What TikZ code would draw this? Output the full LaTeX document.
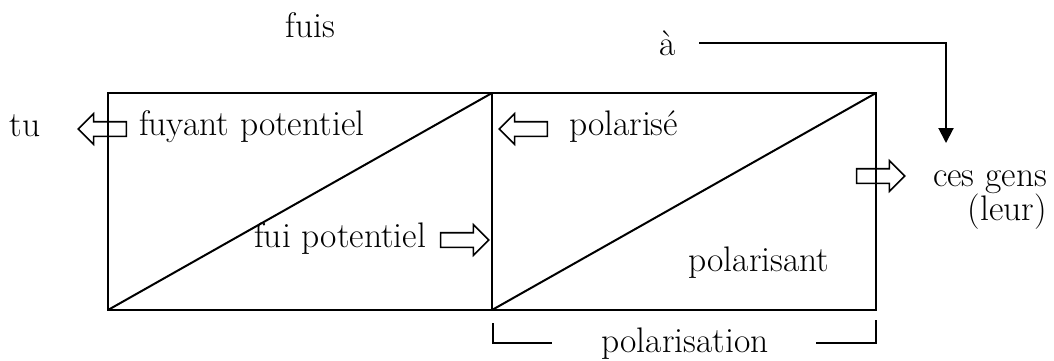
\documentclass[tikz,border=0pt]{standalone}
\usepackage{tikz}
\usetikzlibrary{arrows.meta, positioning, shapes.arrows}

\begin{document}
\begin{tikzpicture}[
    x=1pt, y=-1pt,
    line width=2pt,
    txt/.style={inner sep=0pt, font=\fontsize{35.5}{40}\selectfont},
    hollow/.style={single arrow, draw, line width=1.6pt, minimum height=48pt,
        inner sep=6.5pt, single arrow head extend=8pt, single arrow tip angle=90}
]
    \useasboundingbox (0,0) rectangle (1054,360);

    % the two boxes
    \coordinate (bl) at (108,310);
    \coordinate (tl) at (108,93);
    \coordinate (bm) at (492,310);
    \coordinate (tm) at (492,93);
    \coordinate (br) at (876,310);
    \coordinate (tr) at (876,93);
    \draw (bl) rectangle (tm);
    \draw (bm) rectangle (tr);
    \draw (bl) -- (tm);
    \draw (bm) -- (tr);

    % labels
    \node[txt, anchor=base] (fuis) at (310,37) {fuis};
    \node[txt, anchor=base] (a) at (668,55) {à};
    \node[txt, anchor=base] (tu) at (25,136) {tu};
    \node[txt, anchor=base west] (fuyant) at (138,135) {fuyant potentiel};
    \node[txt, anchor=base west] (polarise) at (568,135) {polarisé};
    \node[txt, anchor=base east] (fui) at (427,247) {fui potentiel};
    \node[txt, anchor=base] (polarisant) at (759,271) {polarisant};
    \node[txt, anchor=base east] (gens) at (1048,186) {ces gens};
    \node[txt, anchor=base east] (leur) at (1048,220) {(leur)};
    \node[txt, anchor=base] (pol) at (685,352) {polarisation};

    % hollow arrows
    \node[hollow, shape border rotate=180] (h1) at (106,129) {};
    \node[hollow, shape border rotate=180] (h2) at (527,129) {};
    \node[hollow] (h3) at (461,240) {};
    \node[hollow] (h4) at (877,176) {};

    % from "a" down to "ces gens"
    \coordinate (down) at (946,143);
    \draw[-{Triangle[length=15pt,width=15pt]}] ([xshift=22pt]a.east) -| (down);

    % bracket
    \coordinate (brl) at (493,323);
    \coordinate (brr) at (876,320);
    \draw (brl) |- ([xshift=-49pt]pol.west);
    \draw (brr) |- ([xshift=47pt]pol.east);
\end{tikzpicture}
\end{document}
